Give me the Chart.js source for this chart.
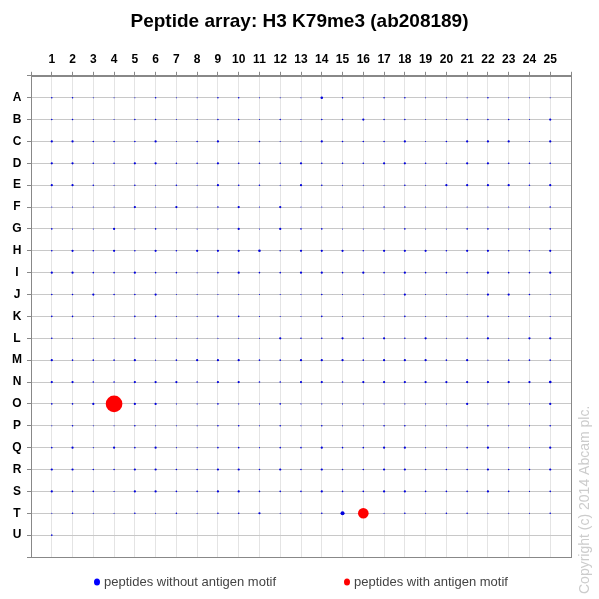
<!DOCTYPE html>
<html>
<head>
<meta charset="utf-8">
<script src="https://cdn.jsdelivr.net/npm/chart.js@4.4.0/dist/chart.umd.min.js"></script>
<style>
    html, body { margin: 0; padding: 0; background: #fff; }
    #wrap { width: 599px; height: 599px; }
</style>
</head>
<body>
<div id="wrap"><canvas id="arrayChart"></canvas></div>
<script>
const rowLetters = ["A", "B", "C", "D", "E", "F", "G", "H", "I", "J", "K",
                    "L", "M", "N", "O", "P", "Q", "R", "S", "T", "U"];
const columnNumbers = [1, 2, 3, 4, 5, 6, 7, 8, 9, 10, 11, 12, 13,
                       14, 15, 16, 17, 18, 19, 20, 21, 22, 23, 24, 25];

// spot signal per row (columns 1..25), peptides without antigen motif
const rowA = [0.9, 0.9, 0.4, 0.4, 0.4, 0.9, 0.4, 0.4, 0.9, 0.9, 0.4, 0.4, 0.4, 2.4, 0.9, 0.4, 0.9, 0.9, 0.4, 0.4, 0.4, 0.9, 0.4, 0.4, 0.4];
const rowB = [0.9, 0.9, 0.4, 0.4, 0.9, 0.9, 0.4, 0.4, 0.9, 0.9, 0.4, 0.9, 0.4, 0.9, 0.9, 1.8, 0.9, 0.9, 0.4, 0.4, 0.9, 0.9, 0.9, 0.4, 1.8];
const rowC = [1.8, 1.8, 0.9, 0.9, 0.9, 1.8, 0.4, 0.9, 1.8, 0.4, 0.9, 0.4, 0.4, 1.8, 0.9, 0.9, 0.9, 1.8, 0.4, 0.9, 1.8, 1.8, 1.8, 0.4, 1.8];
const rowD = [1.8, 1.8, 0.9, 0.9, 1.8, 1.8, 0.9, 0.9, 1.8, 0.9, 0.9, 0.9, 1.8, 0.9, 0.9, 0.9, 1.8, 1.8, 0.9, 0.9, 1.8, 1.8, 0.9, 0.9, 0.9];
const rowE = [1.8, 1.8, 0.9, 0.4, 0.9, 0.4, 0.9, 0.4, 1.8, 0.9, 0.9, 0.4, 1.8, 0.9, 0.4, 0.4, 0.4, 0.9, 0.4, 1.8, 1.8, 1.8, 1.8, 0.9, 1.8];
const rowF = [0.4, 0.4, 0.4, 0.4, 1.8, 0.4, 1.8, 0.4, 0.9, 1.8, 0.4, 1.8, 0.4, 0.4, 0.4, 0.4, 0.9, 0.9, 0.4, 0.4, 0.4, 0.4, 0.4, 0.4, 0.9];
const rowG = [0.9, 0.4, 0.4, 1.8, 0.4, 0.9, 0.4, 0.4, 0.4, 1.8, 0.4, 1.8, 0.9, 0.9, 0.4, 0.4, 0.4, 0.9, 0.4, 0.4, 0.9, 0.9, 0.4, 0.4, 0.9];
const rowH = [0.9, 1.8, 0.9, 1.8, 0.9, 1.8, 0.9, 1.8, 1.8, 1.8, 2.4, 0.9, 1.8, 1.8, 1.8, 0.9, 1.8, 1.8, 1.8, 0.9, 1.8, 1.8, 0.9, 0.9, 1.8];
const rowI = [1.8, 1.8, 0.9, 0.9, 1.8, 0.9, 0.9, 0.4, 0.9, 1.8, 0.9, 0.9, 1.8, 1.8, 0.9, 1.8, 0.9, 1.8, 0.9, 0.9, 0.9, 1.8, 0.9, 0.9, 1.8];
const rowJ = [0.9, 0.9, 1.8, 0.9, 0.9, 1.8, 0.4, 0.4, 0.4, 0.4, 0.4, 0.4, 0.4, 0.9, 0.4, 0.4, 0.4, 1.8, 0.4, 0.4, 0.4, 1.8, 1.8, 0.9, 0.4];
const rowK = [0.9, 0.9, 0.4, 0.4, 0.9, 0.9, 0.4, 0.4, 0.9, 0.9, 0.4, 0.4, 0.4, 0.9, 0.4, 0.4, 0.4, 0.9, 0.4, 0.4, 0.4, 0.9, 0.4, 0.4, 0.4];
const rowL = [0.9, 0.4, 0.4, 0.4, 0.9, 0.4, 0.4, 0.4, 0.4, 0.4, 0.4, 1.8, 0.9, 0.9, 1.8, 0.9, 1.8, 0.9, 1.8, 0.4, 0.9, 1.8, 0.4, 1.8, 1.8];
const rowM = [1.8, 0.9, 0.9, 0.9, 1.8, 0.4, 0.9, 1.8, 1.8, 1.8, 0.9, 0.9, 1.8, 1.8, 1.8, 0.9, 1.8, 1.8, 1.8, 0.9, 1.8, 0.4, 0.9, 0.9, 0.9];
const rowN = [1.8, 1.8, 0.9, 0.9, 1.8, 1.8, 1.8, 0.9, 1.8, 1.8, 0.9, 0.9, 1.8, 1.8, 0.9, 1.8, 1.8, 1.8, 1.8, 1.8, 1.8, 1.8, 1.8, 1.8, 2.6];
const rowO = [0.9, 0.9, 1.8, null, 1.8, 1.8, 0.4, 0.4, 0.9, 0.4, 0.4, 0.9, 0.4, 0.4, 0.4, 0.4, 0.4, 0.4, 0.4, 0.4, 1.8, 0.4, 0.4, 0.4, 1.8];
const rowP = [0.4, 0.9, 0.4, 0.4, 0.9, 0.4, 0.4, 0.4, 0.9, 0.9, 0.4, 0.9, 0.4, 0.9, 0.4, 0.4, 0.9, 0.9, 0.4, 0.4, 0.4, 0.9, 0.4, 0.4, 0.9];
const rowQ = [0.9, 1.8, 0.4, 1.8, 0.9, 1.8, 0.4, 0.4, 0.9, 0.9, 0.4, 0.9, 0.9, 1.8, 0.9, 0.9, 1.8, 1.8, 0.4, 0.4, 0.9, 1.8, 0.4, 0.4, 1.8];
const rowR = [1.8, 1.8, 0.9, 0.9, 1.8, 1.8, 0.9, 0.9, 1.8, 1.8, 0.9, 1.8, 0.9, 1.8, 0.9, 0.9, 1.8, 1.8, 0.9, 0.9, 0.9, 1.8, 0.9, 0.9, 1.8];
const rowS = [1.8, 0.9, 0.9, 0.4, 1.8, 1.8, 0.9, 0.9, 1.8, 1.8, 0.9, 0.9, 0.9, 1.8, 0.9, 0.9, 1.8, 1.8, 0.9, 0.9, 0.9, 1.8, 0.9, 0.4, 0.9];
const rowT = [0.4, 0.9, 0.4, 0.4, 0.9, 0.4, 0.9, 0.4, 0.9, 0.9, 1.8, 0.4, 0.4, 0.9, 6, null, 0.4, 0.9, 0.4, 0.9, 0.9, 0.4, 0.4, 0.4, 0.9];
const rowU = [0.9];

const signalRows = [rowA, rowB, rowC, rowD, rowE, rowF, rowG, rowH, rowI, rowJ, rowK,
                    rowL, rowM, rowN, rowO, rowP, rowQ, rowR, rowS, rowT, rowU];

// peptides with antigen motif
const motifRows = ["O", "T"];
const motifColumns = [4, 16];
const motifSignal = [100, 41];

const seriesLabels = ["peptides without antigen motif", "peptides with antigen motif"];
const seriesColors = ["#0000dd", "#ff0000"];

function spotRadius(v) {
    return 0.83 * Math.sqrt(v);
}

const plainPoints = [];
signalRows.forEach((row, ri) => {
    row.forEach((v, ci) => {
        if (v === null || v === undefined) return;
        plainPoints.push({ x: columnNumbers[ci], y: ri, r: spotRadius(v) });
    });
});

const motifPoints = motifRows.map((letter, i) => ({
    x: motifColumns[i],
    y: rowLetters.indexOf(letter),
    r: spotRadius(motifSignal[i])
}));

/* frame, legend and copyright drawn on the canvas */
const extras = {
    id: "extras",
    afterDraw(chart) {
        const ctx = chart.ctx;
        const a = chart.chartArea;
        ctx.save();

        ctx.strokeStyle = "#888";
        ctx.lineWidth = 1;
        ctx.strokeRect(Math.round(a.left) + 0.5, Math.round(a.top) + 0.5,
                       Math.round(a.right - a.left), Math.round(a.bottom - a.top));

        // legend
        ctx.font = "13px 'Liberation Sans', Arial, sans-serif";
        ctx.textBaseline = "middle";
        ctx.textAlign = "left";
        const legendY = 582;
        const legendX = [97, 347];
        seriesLabels.forEach((label, i) => {
            ctx.fillStyle = i === 0 ? "#0000ff" : seriesColors[i];
            ctx.beginPath();
            ctx.ellipse(legendX[i], legendY, 3, 3.6, 0, 0, Math.PI * 2);
            ctx.fill();
            ctx.fillStyle = "#444";
            ctx.fillText(label, legendX[i] + 7, legendY);
        });

        // copyright
        ctx.translate(585, 594);
        ctx.rotate(-Math.PI / 2);
        ctx.font = "14px 'Liberation Sans', Arial, sans-serif";
        ctx.fillStyle = "#cccccc";
        ctx.fillText("Copyright (c) 2014 Abcam plc.", 0, 0);
        ctx.restore();
    }
};

const tickFont = { family: "'Liberation Sans', Arial, sans-serif", size: 12, weight: "bold" };

const ctx = document.getElementById("arrayChart");

new Chart(ctx, {
    type: "bubble",
    data: {
        datasets: [
            {
                label: seriesLabels[0],
                data: plainPoints,
                backgroundColor: seriesColors[0],
                borderWidth: 0
            },
            {
                label: seriesLabels[1],
                data: motifPoints,
                backgroundColor: seriesColors[1],
                borderWidth: 0
            }
        ]
    },
    options: {
        responsive: true,
        maintainAspectRatio: false,
        animation: false,
        layout: { padding: { left: 0, right: 0, top: 0, bottom: 42 } },
        plugins: {
            legend: { display: false },
            tooltip: { enabled: false },
            title: {
                display: true,
                text: "Peptide array: H3 K79me3 (ab208189)",
                color: "#000",
                font: { family: "'Liberation Sans', Arial, sans-serif", size: 19, weight: "bold" },
                padding: { top: 10, bottom: 21 }
            }
        },
        scales: {
            x: {
                type: "linear",
                position: "top",
                min: 0,
                max: 26,
                afterFit: s => { s.height = 22; },
                ticks: {
                    stepSize: 1,
                    autoSkip: false,
                    maxRotation: 0,
                    padding: 5,
                    color: "#000",
                    font: tickFont,
                    callback: v => (v >= 1 && v <= 25 ? String(v) : "")
                },
                grid: { color: "#e4e4e4", tickColor: "#888", tickLength: 4 },
                border: { color: "#888" }
            },
            y: {
                type: "linear",
                reverse: true,
                min: -1,
                max: 21,
                afterFit: s => { s.width = 31; },
                ticks: {
                    stepSize: 1,
                    autoSkip: false,
                    padding: 5,
                    crossAlign: "center",
                    color: "#000",
                    font: tickFont,
                    callback: v => rowLetters[v] || ""
                },
                grid: { color: "#c8c8c8", tickColor: "#888", tickLength: 4 },
                border: { color: "#888" }
            },
            margin: {
                type: "linear",
                position: "right",
                afterFit: s => { s.width = 28; },
                ticks: { display: false },
                grid: { display: false },
                border: { display: false }
            }
        }
    },
    plugins: [extras]
});
</script>
</body>
</html>
